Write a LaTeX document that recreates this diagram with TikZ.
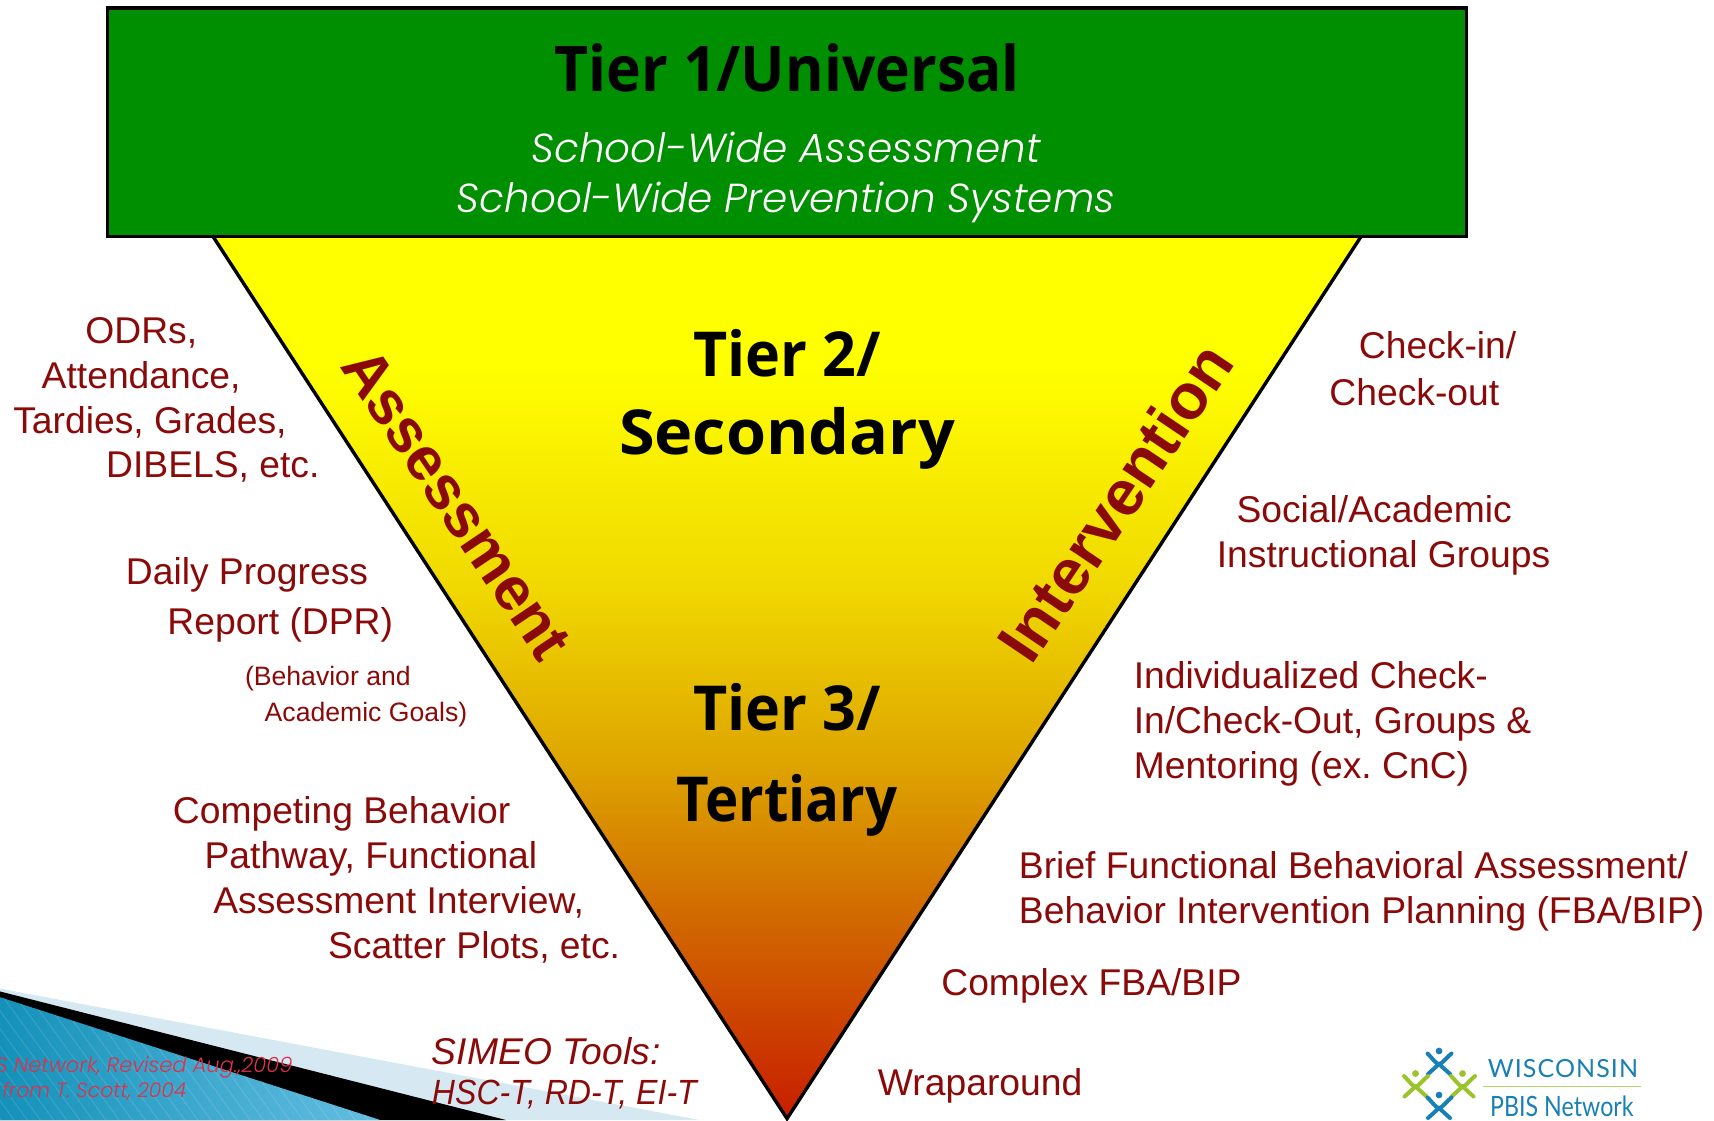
\documentclass[tikz,border=0pt]{standalone}
\usepackage{fontspec}
\setmainfont{Liberation Sans}
\newfontfamily\headfont{Open Sans}
\newfontfamily\gothfont[ItalicFont={Poppins Light Italic}]{Poppins}
\newfontfamily\logofont{Lato}
\definecolor{txtred}{HTML}{8A0A0A}
\definecolor{footred}{HTML}{E0304A}
\definecolor{grn}{HTML}{008F00}
\definecolor{logoblue}{HTML}{1A80B4}
\definecolor{logogreen}{HTML}{9BC42C}
\pgfdeclareverticalshading{triShade}{100bp}{
 color(0bp)=({rgb,255:red,200;green,30;blue,0});
 color(25bp)=({rgb,255:red,200;green,30;blue,0});
 color(37.5bp)=({rgb,255:red,210;green,112;blue,0});
 color(45bp)=({rgb,255:red,222;green,164;blue,0});
 color(55bp)=({rgb,255:red,240;green,216;blue,0});
 color(67.5bp)=(yellow);
 color(100bp)=(yellow)}
\tikzset{
 limb/.style={line width=4pt,line cap=round}
}
\newcommand{\tl}[5]{\node[anchor=base west,inner sep=0pt,text=txtred,font=\fontsize{#4}{#4}\selectfont\frenchspacing] (#1) at (#2,#3) {#5};}
% #1 name, #2 y, #3 x-stretch, #4 text
\newcommand{\tc}[5]{\node[anchor=base,inner sep=0pt,font=\fontsize{#4}{#4}\selectfont\headfont\bfseries] (#1) at (720,#2) {\scalebox{#3}[1]{#5}};}
\newcommand{\figbody}[3]{%
 \fill[#3] (#1,#2) circle (3.4);
 \draw[#3,limb] (#1-11.5,#2+2.5) .. controls (#1-6,#2+8) and (#1-3,#2+13) .. (#1,#2+13);
 \draw[#3,limb] (#1+12.5,#2+2.5) .. controls (#1+6,#2+8) and (#1+3,#2+13) .. (#1,#2+13);
 \draw[#3,limb] (#1,#2+13) -- (#1-11,#2+23);
 \draw[#3,limb] (#1,#2+13) -- (#1+11,#2+23);
}
\begin{document}
\begin{tikzpicture}[x=1.0931pt,y=-0.7143pt]
\useasboundingbox (0,0) rectangle (1568,1568);
% triangle
\shade[shading=triShade,draw=black,line width=3.4pt,line join=miter] (194,329) -- (1246,329) -- (720,1566) -- cycle;
% bottom-left decoration
\fill[fill={rgb,255:red,214;green,232;blue,241}] (0,1384) -- (640,1568) -- (0,1568) -- cycle;
\fill[black] (0,1388) -- (463,1568) -- (0,1568) -- cycle;
\begin{scope}
\clip (0,1396) -- (348,1568) -- (0,1568) -- cycle;
\shade[left color={rgb,255:red,20;green,145;blue,185},right color={rgb,255:red,100;green,190;blue,225}] (0,1390) rectangle (348,1568);
\foreach \i in {-20,...,40}{
  \draw[white,opacity=.12,line width=1pt] (\i*12,1390) -- (\i*12+85,1568);
}
\end{scope}
% green box
\node[draw=black,line width=3.4pt,fill=grn,inner sep=0pt,anchor=north west,minimum height=0.7143pt*320,minimum width=1.0931pt*1243] (tierone) at (97,9) {};
\tc{t1}{128}{.934}{63}{Tier 1/Universal}
\node[anchor=base,inner sep=0pt,text=white,font=\fontsize{40.5}{40.5}\selectfont\gothfont\itshape] (t1a) at (719,228) {School-Wide Assessment};
\node[anchor=base,inner sep=0pt,text=white,font=\fontsize{40.5}{40.5}\selectfont\gothfont\itshape] (t1b) at (719,298) {School-Wide Prevention Systems};
\tc{t2a}{527}{.955}{62}{Tier 2/}
\tc{t2b}{636}{1.044}{62}{Secondary}
\tc{t3a}{1022}{.955}{62}{Tier 3/}
\tc{t3b}{1150}{.91}{62}{Tertiary}
% rotated
\node[inner sep=0pt,text=txtred,font=\fontsize{61}{61}\selectfont\bfseries,rotate=-56] (assess) at (418,705) {Assessment};
\node[inner sep=0pt,text=txtred,font=\fontsize{64}{64}\selectfont\bfseries,rotate=56] (interv) at (1020,703) {Intervention};
% left
\tl{a1}{78}{480.5}{37.25}{ODRs,}
\tl{a2}{38}{544.5}{37.25}{Attendance,}
\tl{a3}{12}{606.5}{37.25}{Tardies, Grades,}
\tl{a4}{97}{668.5}{37.25}{DIBELS, etc.}
\tl{b1}{115}{818}{37.25}{Daily Progress}
\tl{b2}{153}{888}{37.25}{Report (DPR)}
\tl{b3}{224}{960}{26.6}{(Behavior and}
\tl{b4}{242}{1010}{26.6}{Academic Goals)}
\tl{c1}{158}{1153.5}{37.25}{Competing Behavior}
\tl{c2}{187}{1216.5}{37.25}{Pathway, Functional}
\tl{c3}{195}{1279.5}{37.25}{Assessment Interview,}
\tl{c4}{300}{1341.5}{37.25}{Scatter Plots, etc.}
\node[anchor=base west,inner sep=0pt,text=txtred,font=\fontsize{37.25}{37.25}\selectfont\itshape] (s1) at (395,1490) {SIMEO Tools:};
\node[anchor=base west,inner sep=0pt,text=txtred,font=\fontsize{35}{35}\selectfont\itshape] (s2) at (395,1546) {\scalebox{.916}[1]{HSC-T, RD-T, EI-T}};
\node[anchor=base west,inner sep=0pt,text=footred,font=\fontsize{21}{21}\selectfont\gothfont\itshape] (f1) at (-4,1502) {S Network, Revised Aug.,2009};
\node[anchor=base west,inner sep=0pt,text=footred,font=\fontsize{20.3}{20.3}\selectfont\gothfont\itshape] (f2) at (2,1537) {from T. Scott, 2004};
% right
\tl{r1}{1243}{502.5}{37.25}{Check-in/}
\tl{r2}{1216}{567}{37.25}{Check-out}
\tl{r3}{1131}{732}{37.25}{Social/Academic}
\tl{r4}{1113}{795}{37.25}{Instructional Groups}
\tl{r5}{1037}{963.5}{37.25}{Individualized Check-}
\tl{r6}{1037}{1027}{37.25}{In/Check-Out, Groups \&}
\tl{r7}{1037}{1090}{37.25}{Mentoring (ex. CnC)}
\tl{r8}{932}{1230}{37.25}{Brief Functional Behavioral Assessment/}
\tl{r9}{932}{1293}{37.25}{Behavior Intervention Planning (FBA/BIP)}
\tl{r10}{861}{1393}{37.25}{Complex FBA/BIP}
\tl{r11}{803}{1534}{37.25}{Wraparound}
% logo
\node[anchor=base west,inner sep=0pt,text=logoblue,font=\fontsize{25}{25}\selectfont\logofont\addfontfeature{LetterSpace=4.3}] (lg1) at (1361,1508) {WISCONSIN};
\draw[logogreen!70,line width=1.3pt] (1357,1520.6) -- (1501,1520.6);
\node[anchor=base west,inner sep=0pt,text=logoblue,font=\fontsize{28}{28}\selectfont\logofont] (lg2) at (1363,1563) {\scalebox{.83}[1]{PBIS Network}};
\begin{scope}[x=1pt,y=-1pt]
\clip (1390,1030) rectangle (1500,1120);
\figbody{1439}{1051}{logoblue}
\figbody{1415.5}{1073.5}{logogreen}
\figbody{1462.5}{1073.5}{logogreen}
\figbody{1439}{1095}{logoblue}
\end{scope}
\end{tikzpicture}
\end{document}
